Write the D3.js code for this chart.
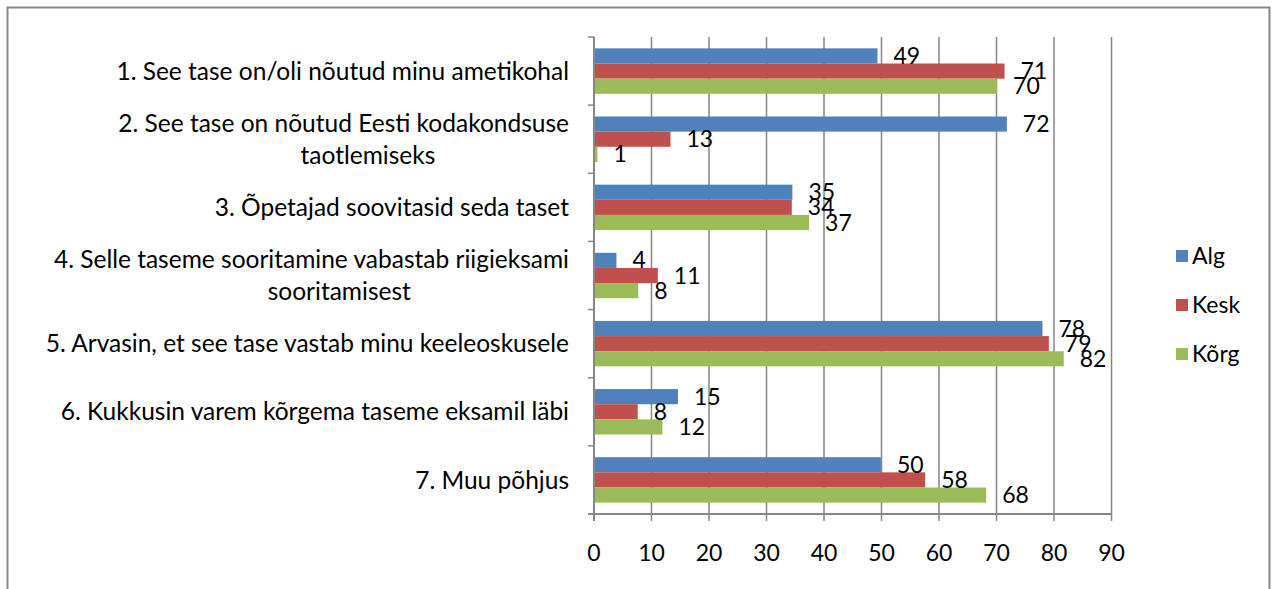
<!DOCTYPE html>
<html>
<head>
<meta charset="utf-8">
<script src="https://cdn.jsdelivr.net/npm/d3@7.9.0/dist/d3.min.js"></script>
<style>
  body { margin: 0; background: #fff; }
  svg { display: block; font-family: Lato, "Open Sans", sans-serif; }
</style>
</head>
<body>
<div id="chart"></div>
<script>
// categories (each is a list of text lines)
const categories = [
    ["1. See tase on/oli nõutud minu ametikohal"],
    ["2. See tase on nõutud Eesti kodakondsuse", "taotlemiseks"],
    ["3. Õpetajad soovitasid seda taset"],
    ["4. Selle taseme sooritamine vabastab riigieksami", "sooritamisest"],
    ["5. Arvasin, et see tase vastab minu keeleoskusele"],
    ["6. Kukkusin varem kõrgema taseme eksamil läbi"],
    ["7. Muu põhjus "]
];
const seriesNames = ["Alg", "Kesk", "Kõrg"];
const seriesColors = ["#4F81BD", "#C0504D", "#9BBB59"];

// values (labels show them rounded)
const alg  = [49.3, 71.8, 34.5, 3.9, 78.0, 14.6, 49.9];
const kesk = [71.4, 13.3, 34.4, 11.1, 79.1, 7.6, 57.6];
const korg = [70.1, 0.6, 37.4, 7.7, 81.7, 11.9, 68.2];
const xTicks = [0, 10, 20, 30, 40, 50, 60, 70, 80, 90];

const width = 1273;
const height = 589;
const plot = { left: 594, right: 1111.5, top: 37, bottom: 514 };
const textSize = 23;
const catSize = 24.5;

const svg = d3.select('#chart')
    .append('svg')
    .attr('width', width)
    .attr('height', height);

// outer frame
svg.append("rect")
    .attr("x", 7.5)
    .attr("y", 7.5)
    .attr("width", 1262)
    .attr("height", 600)
    .attr("fill", "#fff")
    .attr("stroke", "#868686")
    .attr("stroke-width", 2);

const xScale = d3.scaleLinear().domain([0, 90]).range([plot.left, plot.right]);
const yScale = d3.scaleBand()
    .domain(d3.range(categories.length))
    .range([plot.top, plot.bottom]);
// bar = band / 4.5, gap of 1.5 bars split on both sides
const inner = d3.scaleBand()
    .domain(d3.range(seriesNames.length))
    .range([yScale.bandwidth() * 0.75 / 4.5, yScale.bandwidth() * 3.75 / 4.5]);

/* vertical grid lines */
xTicks.forEach(t => {
    svg.append("line")
        .attr("x1", xScale(t))
        .attr("x2", xScale(t))
        .attr("y1", plot.top)
        .attr("y2", plot.bottom + 7)
        .attr("stroke", "#868686")
        .attr("stroke-width", t === 0 ? 2 : 1.5);
});

// category ticks on the left
d3.range(categories.length + 1).forEach(i => {
    const y = plot.top + i * yScale.step();
    svg.append("line")
        .attr("x1", plot.left - 6)
        .attr("x2", plot.left)
        .attr("y1", y)
        .attr("y2", y)
        .attr("stroke", "#868686")
        .attr("stroke-width", 1.5);
});

// x axis line
svg.append("line")
    .attr("x1", plot.left - 6)
    .attr("x2", plot.right)
    .attr("y1", plot.bottom)
    .attr("y2", plot.bottom)
    .attr("stroke", "#868686")
    .attr("stroke-width", 2);

const series = [alg, kesk, korg];

series.forEach((vals, s) => {
    svg.append("g")
        .selectAll("rect")
        .data(vals)
        .join("rect")
        .attr("x", xScale(0) + 1)
        .attr("y", (d, i) => yScale(i) + inner(s))
        .attr("width", d => Math.max(0, xScale(d) - xScale(0) - 1))
        .attr("height", inner.bandwidth())
        .attr("fill", seriesColors[s]);
});

// value labels drawn after all bars
series.forEach((vals, s) => {
    svg.append("g")
        .selectAll("text")
        .data(vals)
        .join("text")
        .attr("x", d => xScale(d) + 16)
        .attr("y", (d, i) => yScale(i) + inner(s) + inner.bandwidth() / 2)
        .attr("dy", "0.35em")
        .attr("font-size", textSize)
        .attr("fill", "#000")
        .text(d => Math.round(d));
});

// category labels
categories.forEach((lines, i) => {
    const cy = yScale(i) + yScale.bandwidth() / 2;
    if (lines.length === 1) {
        svg.append("text")
            .attr("x", 569)
            .attr("y", cy)
            .attr("dy", "0.35em")
            .attr("text-anchor", "end")
            .attr("font-size", catSize)
            .text(lines[0]);
    } else {
        const first = svg.append("text")
            .attr("x", 569)
            .attr("y", cy - 16)
            .attr("dy", "0.35em")
            .attr("text-anchor", "end")
            .attr("font-size", catSize)
            .text(lines[0]);
        const w = first.node().getComputedTextLength();
        svg.append("text")
            .attr("x", 569 - w / 2 + w * 0.054)
            .attr("y", cy + 16)
            .attr("dy", "0.35em")
            .attr("text-anchor", "middle")
            .attr("font-size", catSize)
            .text(lines[1]);
    }
});

// x tick labels
svg.append("g")
    .selectAll("text")
    .data(xTicks)
    .join("text")
    .attr("x", d => xScale(d))
    .attr("y", 553)
    .attr("dy", "0.35em")
    .attr("text-anchor", "middle")
    .attr("font-size", textSize)
    .text(d => d);

// legend
const legend = svg.append("g");
seriesNames.forEach((name, i) => {
    const y = 256 + i * 49;
    legend.append("rect")
        .attr("x", 1176)
        .attr("y", y - 6)
        .attr("width", 12)
        .attr("height", 12)
        .attr("fill", seriesColors[i]);
    legend.append("text")
        .attr("x", 1192)
        .attr("y", y)
        .attr("dy", "0.35em")
        .attr("font-size", textSize)
        .text(name);
});
</script>
</body>
</html>
